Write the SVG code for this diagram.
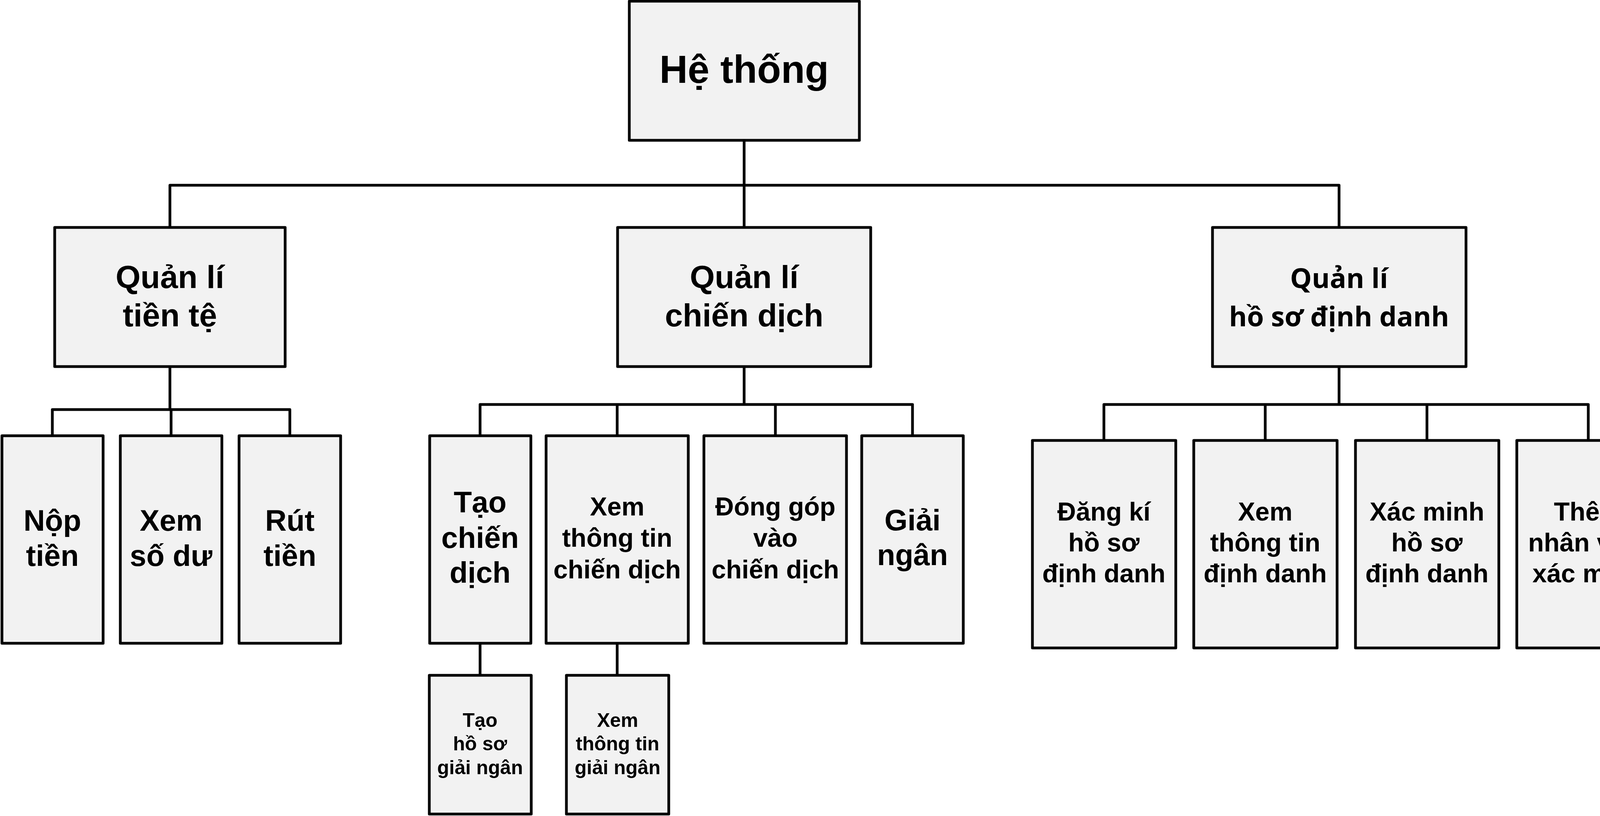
<svg xmlns="http://www.w3.org/2000/svg" width="4275" height="2088" viewBox="0 0 4275 2088">
<style>
.box{fill:#f2f2f2;stroke:#000;stroke-width:7;stroke-linejoin:round}
.t{font-family:"Liberation Sans",Arial,sans-serif;font-weight:bold;fill:#000;text-anchor:middle}
.c{font-family:"Open Sans","Noto Sans",sans-serif;font-weight:bold;fill:#000;text-anchor:middle}
.ln{fill:none;stroke:#000;stroke-width:7;stroke-linejoin:round;stroke-linecap:butt}
</style>
<rect width="4275" height="2088" fill="#fff"/>
<g id="connectors">
<path class="ln" d="M1905,359 V582"/>
<path class="ln" d="M435,582 V474 H3428 V582"/>
<path class="ln" d="M435,938 V1048"/>
<path class="ln" d="M134,1115 V1048 H742 V1115"/>
<path class="ln" d="M438,1048 V1115"/>
<path class="ln" d="M1905,938 V1035"/>
<path class="ln" d="M1229,1115 V1035 H2336 V1115"/>
<path class="ln" d="M1580,1035 V1115"/>
<path class="ln" d="M1985,1035 V1115"/>
<path class="ln" d="M1229,1646 V1728"/>
<path class="ln" d="M1580,1646 V1728"/>
<path class="ln" d="M3428,938 V1035"/>
<path class="ln" d="M2826,1127 V1035 H4066 V1127"/>
<path class="ln" d="M3239,1035 V1127"/>
<path class="ln" d="M3653,1035 V1127"/>
</g>
<g id="he-thong">
<rect class="box" x="1611" y="3" width="589" height="356"/>
<text class="t" x="1905" y="212" font-size="100">Hệ thống</text>
</g>
<g id="ql-tien-te">
<rect class="box" x="140" y="582" width="590" height="356"/>
<text class="t" x="435" y="737" font-size="82">Quản lí</text>
<text class="t" x="435" y="835" font-size="82">tiền tệ</text>
</g>
<g id="ql-chien-dich">
<rect class="box" x="1581" y="582" width="648" height="356"/>
<text class="t" x="1905" y="737" font-size="82">Quản lí</text>
<text class="t" x="1905" y="835" font-size="82">chiến dịch</text>
</g>
<g id="ql-ho-so">
<rect class="box" x="3104" y="582" width="649" height="356"/>
<text class="c" x="3428" y="737" font-size="70">Quản lí</text>
<text class="c" x="3428" y="835" font-size="70">hồ sơ định danh</text>
</g>
<g id="nop-tien">
<rect class="box" x="5" y="1115" width="259" height="531"/>
<text class="t" x="134" y="1358" font-size="76">Nộp</text>
<text class="t" x="134" y="1448" font-size="76">tiền</text>
</g>
<g id="xem-so-du">
<rect class="box" x="308" y="1115" width="260" height="531"/>
<text class="t" x="438" y="1358" font-size="76">Xem</text>
<text class="t" x="438" y="1448" font-size="76">số dư</text>
</g>
<g id="rut-tien">
<rect class="box" x="612" y="1115" width="260" height="531"/>
<text class="t" x="742" y="1358" font-size="76">Rút</text>
<text class="t" x="742" y="1448" font-size="76">tiền</text>
</g>
<g id="tao-chien-dich">
<rect class="box" x="1100" y="1115" width="259" height="531"/>
<text class="t" x="1229" y="1311" font-size="76">Tạo</text>
<text class="t" x="1229" y="1402" font-size="76">chiến</text>
<text class="t" x="1229" y="1491" font-size="76">dịch</text>
</g>
<g id="xem-chien-dich">
<rect class="box" x="1398" y="1115" width="364" height="531"/>
<text class="t" x="1580" y="1319" font-size="66">Xem</text>
<text class="t" x="1580" y="1399" font-size="66">thông tin</text>
<text class="t" x="1580" y="1480" font-size="66">chiến dịch</text>
</g>
<g id="dong-gop">
<rect class="box" x="1802" y="1115" width="365" height="531"/>
<text class="t" x="1985" y="1319" font-size="66">Đóng góp</text>
<text class="t" x="1985" y="1399" font-size="66">vào</text>
<text class="t" x="1985" y="1480" font-size="66">chiến dịch</text>
</g>
<g id="giai-ngan">
<rect class="box" x="2206" y="1115" width="260" height="531"/>
<text class="t" x="2336" y="1357" font-size="76">Giải</text>
<text class="t" x="2336" y="1446" font-size="76">ngân</text>
</g>
<g id="tao-ho-so-giai-ngan">
<rect class="box" x="1099" y="1728" width="261" height="355"/>
<text class="t" x="1229" y="1860" font-size="50">Tạo</text>
<text class="t" x="1229" y="1920" font-size="50">hồ sơ</text>
<text class="t" x="1229" y="1981" font-size="50">giải ngân</text>
</g>
<g id="xem-giai-ngan">
<rect class="box" x="1450" y="1728" width="262" height="355"/>
<text class="t" x="1581" y="1860" font-size="50">Xem</text>
<text class="t" x="1581" y="1920" font-size="50">thông tin</text>
<text class="t" x="1581" y="1981" font-size="50">giải ngân</text>
</g>
<g id="dang-ki">
<rect class="box" x="2643" y="1127" width="367" height="531"/>
<text class="t" x="2826" y="1332" font-size="66">Đăng kí</text>
<text class="t" x="2826" y="1411" font-size="66">hồ sơ</text>
<text class="t" x="2826" y="1490" font-size="66">định danh</text>
</g>
<g id="xem-dinh-danh">
<rect class="box" x="3056" y="1127" width="367" height="531"/>
<text class="t" x="3239" y="1332" font-size="66">Xem</text>
<text class="t" x="3239" y="1411" font-size="66">thông tin</text>
<text class="t" x="3239" y="1490" font-size="66">định danh</text>
</g>
<g id="xac-minh">
<rect class="box" x="3470" y="1127" width="367" height="531"/>
<text class="t" x="3653" y="1332" font-size="66">Xác minh</text>
<text class="t" x="3653" y="1411" font-size="66">hồ sơ</text>
<text class="t" x="3653" y="1490" font-size="66">định danh</text>
</g>
<g id="them-nhan-vien">
<rect class="box" x="3883" y="1127" width="367" height="531"/>
<text class="t" x="4066" y="1332" font-size="66">Thêm</text>
<text class="t" x="4066" y="1411" font-size="66">nhân viên</text>
<text class="t" x="4066" y="1490" font-size="66">xác minh</text>
</g>
</svg>
